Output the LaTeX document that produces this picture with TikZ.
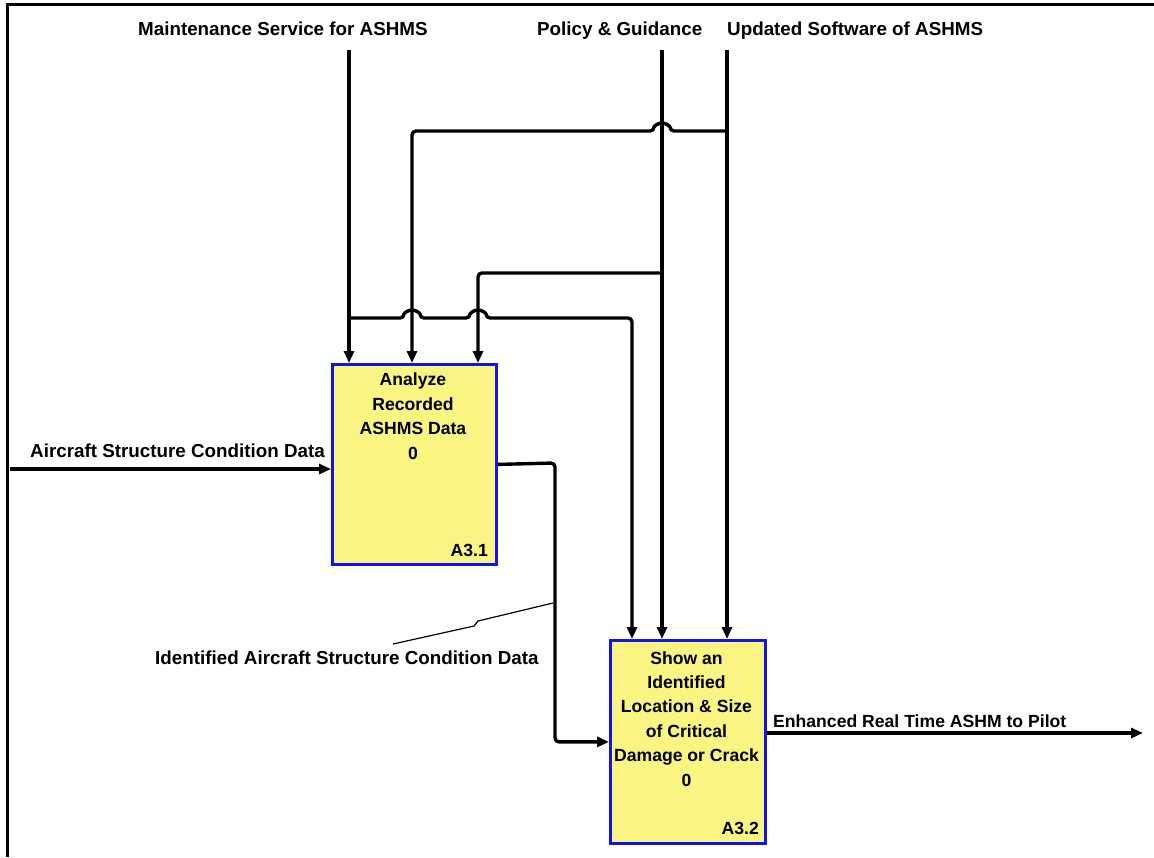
\documentclass[tikz,border=0pt]{standalone}
\usepackage{fontspec}
\setmainfont{Liberation Sans}
\usetikzlibrary{arrows.meta}
\definecolor{boxfill}{RGB}{250,245,130}
\definecolor{boxline}{RGB}{20,20,230}
\begin{document}
\begin{tikzpicture}[x=1pt,y=-1pt,
  arr/.style={draw=black, line width=3.4pt, rounded corners=4pt, -{Triangle[length=12pt,width=10pt]}},
  box/.style={draw=boxline, fill=boxfill, line width=2.8pt, inner sep=0pt},
  lbl/.style={inner sep=0pt, anchor=base west, font=\fontsize{18.8}{22}\selectfont\bfseries},
  olbl/.style={inner sep=0pt, anchor=base west, font=\fontsize{17.6}{22}\selectfont\bfseries},
  btxt/.style={inner sep=0pt, align=center, anchor=base, font=\fontsize{17.6}{24.4}\selectfont\bfseries},
  bnum/.style={inner sep=0pt, anchor=base east, font=\fontsize{17.6}{22}\selectfont\bfseries},
]
\useasboundingbox (0,0) rectangle (1154,857);
\draw[line width=3pt] (7,857) -- (7,4.5) -- (1154,4.5);

% boxes
\node[box, minimum width=164pt, minimum height=200pt, anchor=north west] (a1) at (331,363) {};
\node[box, minimum width=155pt, minimum height=203pt, anchor=north west] (a2) at (609,639) {};
\node[btxt] (t1) at (413,459) {Analyze\\Recorded\\ASHMS Data\\0};
\node[btxt] (t2) at (686.5,786) {Show an\\Identified\\Location \& Size\\of Critical\\Damage or Crack\\0};
\node[bnum] (n1) at (488,556) {A3.1};
\node[bnum] (n2) at (759,834) {A3.2};

% labels
\node[lbl] (lm) at (138,35) {Maintenance Service for ASHMS};
\node[lbl] (lp) at (537,35) {Policy \& Guidance};
\node[lbl] (lu) at (727,35) {Updated Software of ASHMS};
\node[lbl] (li) at (30,457) {Aircraft Structure Condition Data};
\node[lbl] (lid) at (155,664) {Identified Aircraft Structure Condition Data};
\node[olbl] (lo) at (773,727) {Enhanced Real Time ASHM to Pilot};

% connector end points
\coordinate (cM) at (349,50);
\coordinate (cP) at (662,50);
\coordinate (cU) at (727,50);
\coordinate (cI) at (10,469);
\coordinate (cO) at (1143,733);

% controls
\draw[arr] (cM) -- (cM |- a1.north);
\draw[arr] (cP) -- (cP |- a2.north);
\draw[arr] (cU) -- (cU |- a2.north);
\draw[arr] (349,318) -- (404,318) arc[start angle=180,end angle=0,radius=8pt]
  -- (470,318) arc[start angle=180,end angle=0,radius=8pt]
  -- (632,318) -- (632,0 |- a2.north);
\draw[arr] (662,273) -- (478,273) -- (478,0 |- a1.north);
\draw[arr] (727,131) -- (670,131) arc[start angle=0,end angle=180,radius=8pt]
  -- (412,131) -- (412,0 |- a1.north);

% input / output
\draw[arr] (cI) -- (a1.west |- cI);
\draw[arr] (a1.east) -- (555,463) -- (555,0 |- a2.west) -- (a2.west);
\draw[arr] (a2.east |- cO) -- (cO);

% squiggle
\draw[line width=1.2pt] (553,603) -- (478,621) -- (474,626) -- (393,644);
\end{tikzpicture}
\end{document}
